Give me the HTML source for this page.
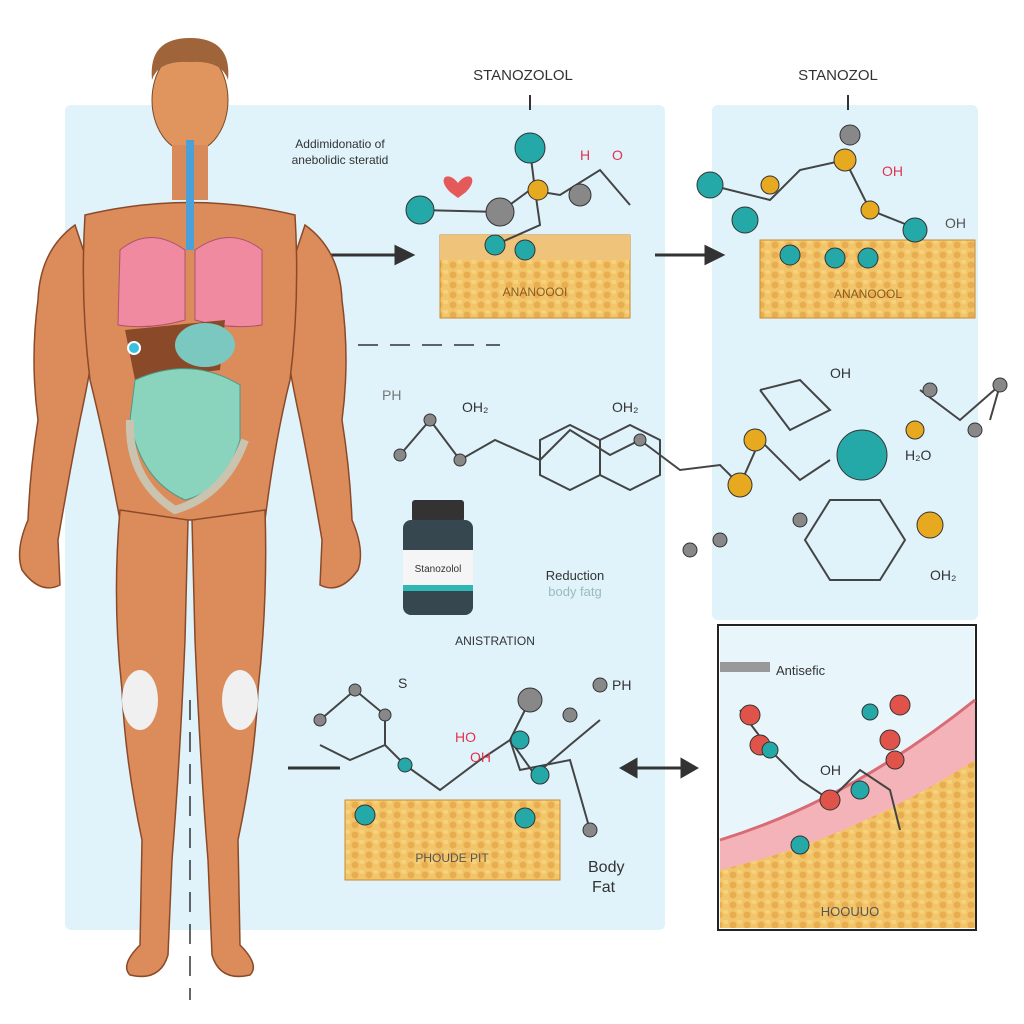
<!DOCTYPE html>
<html><head><meta charset="utf-8"><style>
html,body{margin:0;padding:0;background:#fff;width:1024px;height:1024px;overflow:hidden}
svg text{font-family:"Liberation Sans",sans-serif}
</style></head><body>
<svg width="1024" height="1024" viewBox="0 0 1024 1024" xmlns="http://www.w3.org/2000/svg">
<defs>
<pattern id="fat" width="14" height="10" patternUnits="userSpaceOnUse">
<rect width="14" height="10" fill="#f3c56a"/><circle cx="5" cy="5" r="3.5" fill="#e8ad4f"/><circle cx="12" cy="1" r="3" fill="#f6d27c"/>
</pattern>
</defs>
<rect x="65" y="105" width="600" height="825" rx="6" fill="#e0f3fb"/>
<rect x="712" y="105" width="266" height="515" rx="6" fill="#e0f3fb"/>
<rect x="718" y="625" width="258" height="305" fill="#fff" stroke="#222" stroke-width="2"/>
<rect x="720" y="627" width="254" height="301" fill="#e8f6fb"/>
<path d="M720 840 Q850 800 975 700 L975 790 Q860 880 720 905Z" fill="#f4b3b8"/>
<path d="M720 870 Q850 840 975 760 L975 928 L720 928Z" fill="url(#fat)"/>
<path d="M720 840 Q850 800 975 700" stroke="#d96b76" stroke-width="3" fill="none"/>
<text x="850" y="916" font-size="13" fill="#555" text-anchor="middle">HOOUUO</text>
<rect x="720" y="662" width="50" height="10" fill="#999"/>
<text x="776" y="675" font-size="13" fill="#333">Antisefic</text>
<rect x="440" y="235" width="190" height="83" fill="url(#fat)" stroke="#c98a33"/>
<rect x="440" y="235" width="190" height="25" fill="#f0c37a"/>
<text x="535" y="296" font-size="12" fill="#8a5a20" text-anchor="middle">ANANOOOI</text>
<rect x="760" y="240" width="215" height="78" fill="url(#fat)" stroke="#c98a33"/>
<text x="868" y="298" font-size="12" fill="#8a5a20" text-anchor="middle">ANANOOOL</text>
<rect x="345" y="800" width="215" height="80" fill="url(#fat)" stroke="#c98a33"/>
<text x="452" y="862" font-size="12" fill="#555" text-anchor="middle">PHOUDE PIT</text>
<text x="523" y="80" font-size="15" fill="#333" text-anchor="middle">STANOZOLOL</text>
<text x="838" y="80" font-size="15" fill="#333" text-anchor="middle">STANOZOL</text>
<text x="340" y="148" font-size="12" fill="#333" text-anchor="middle">Addimidonatio of</text>
<text x="340" y="164" font-size="12" fill="#333" text-anchor="middle">anebolidic steratid</text>
<text x="495" y="645" font-size="12" fill="#333" text-anchor="middle">ANISTRATION</text>
<text x="575" y="580" font-size="13" fill="#333" text-anchor="middle">Reduction</text>
<text x="575" y="596" font-size="13" fill="#9bb" text-anchor="middle">body fatg</text>
<text x="588" y="872" font-size="16" fill="#333">Body</text>
<text x="592" y="892" font-size="16" fill="#333">Fat</text>
<g stroke="#333" stroke-width="3" fill="#333">
<line x1="320" y1="255" x2="400" y2="255"/><polygon points="412,255 396,247 396,263"/>
<line x1="655" y1="255" x2="710" y2="255"/><polygon points="722,255 706,247 706,263"/>
<line x1="630" y1="768" x2="690" y2="768"/><polygon points="622,768 636,760 636,776"/><polygon points="696,768 682,760 682,776"/>
<line x1="288" y1="768" x2="340" y2="768"/>
</g>
<line x1="358" y1="345" x2="500" y2="345" stroke="#333" stroke-width="1.5" stroke-dasharray="20,12"/>
<line x1="190" y1="700" x2="190" y2="1000" stroke="#333" stroke-width="1.5" stroke-dasharray="20,12"/>
<rect x="412" y="500" width="52" height="22" rx="3" fill="#333"/>
<rect x="403" y="520" width="70" height="95" rx="8" fill="#36474f"/>
<rect x="403" y="550" width="70" height="40" fill="#f5f5f5"/>
<rect x="403" y="585" width="70" height="6" fill="#2fb7b5"/>
<text x="438" y="572" font-size="10" fill="#333" text-anchor="middle">Stanozolol</text>
<g stroke="#444" stroke-width="2" fill="none">
<polyline points="420,210 500,212 530,190 560,195 600,170 630,205"/>
<polyline points="530,150 535,190 540,225 495,245"/>
<polyline points="710,185 770,200 800,170 845,160 870,210 920,230"/>
<polyline points="400,455 430,420 460,460 495,440 540,460 570,430 610,455 640,440 680,470 720,465 740,485 760,440 800,480 830,460"/>
<polygon points="540,440 570,425 600,440 600,475 570,490 540,475"/>
<polygon points="600,440 630,425 660,440 660,475 630,490 600,475"/>
<polygon points="830,500 880,500 905,540 880,580 830,580 805,540"/>
<polyline points="760,390 800,380 830,410 790,430 760,390"/>
<polyline points="920,390 960,420 1000,385 990,420"/>
<polyline points="320,720 355,690 385,715 385,745 350,760 320,745Z"/>
<polyline points="385,745 405,765 440,790 480,760 510,740 535,775 570,745 600,720"/>
<polyline points="530,700 510,740 520,770 570,760 590,830"/>
<polyline points="740,710 770,750 800,780 830,800 860,770 890,790 900,830"/>
</g>
<g stroke="#333" stroke-width="1">
<circle cx="420" cy="210" r="14" fill="#25a9a8"/><circle cx="500" cy="212" r="14" fill="#888"/><circle cx="538" cy="190" r="10" fill="#e7a920"/>
<circle cx="530" cy="148" r="15" fill="#25a9a8"/><circle cx="580" cy="195" r="11" fill="#888"/>
<circle cx="495" cy="245" r="10" fill="#25a9a8"/><circle cx="525" cy="250" r="10" fill="#25a9a8"/>
<circle cx="710" cy="185" r="13" fill="#25a9a8"/><circle cx="745" cy="220" r="13" fill="#25a9a8"/><circle cx="770" cy="185" r="9" fill="#e7a920"/>
<circle cx="845" cy="160" r="11" fill="#e7a920"/><circle cx="850" cy="135" r="10" fill="#888"/><circle cx="870" cy="210" r="9" fill="#e7a920"/>
<circle cx="915" cy="230" r="12" fill="#25a9a8"/><circle cx="790" cy="255" r="10" fill="#25a9a8"/><circle cx="835" cy="258" r="10" fill="#25a9a8"/><circle cx="868" cy="258" r="10" fill="#25a9a8"/>
<circle cx="740" cy="485" r="12" fill="#e7a920"/><circle cx="755" cy="440" r="11" fill="#e7a920"/><circle cx="915" cy="430" r="9" fill="#e7a920"/><circle cx="930" cy="525" r="13" fill="#e7a920"/>
<circle cx="862" cy="455" r="25" fill="#25a9a8"/>
<circle cx="400" cy="455" r="6" fill="#888"/><circle cx="430" cy="420" r="6" fill="#888"/><circle cx="460" cy="460" r="6" fill="#888"/><circle cx="640" cy="440" r="6" fill="#888"/><circle cx="690" cy="550" r="7" fill="#888"/><circle cx="720" cy="540" r="7" fill="#888"/><circle cx="800" cy="520" r="7" fill="#888"/>
<circle cx="930" cy="390" r="7" fill="#888"/><circle cx="1000" cy="385" r="7" fill="#888"/><circle cx="975" cy="430" r="7" fill="#888"/>
<circle cx="355" cy="690" r="6" fill="#888"/><circle cx="320" cy="720" r="6" fill="#888"/><circle cx="385" cy="715" r="6" fill="#888"/>
<circle cx="530" cy="700" r="12" fill="#888"/><circle cx="570" cy="715" r="7" fill="#888"/><circle cx="600" cy="685" r="7" fill="#888"/><circle cx="590" cy="830" r="7" fill="#888"/>
<circle cx="405" cy="765" r="7" fill="#25a9a8"/><circle cx="520" cy="740" r="9" fill="#25a9a8"/><circle cx="540" cy="775" r="9" fill="#25a9a8"/>
<circle cx="365" cy="815" r="10" fill="#25a9a8"/><circle cx="525" cy="818" r="10" fill="#25a9a8"/>
<circle cx="750" cy="715" r="10" fill="#e0534a"/><circle cx="760" cy="745" r="10" fill="#e0534a"/><circle cx="890" cy="740" r="10" fill="#e0534a"/><circle cx="900" cy="705" r="10" fill="#e0534a"/>
<circle cx="770" cy="750" r="8" fill="#25a9a8"/><circle cx="870" cy="712" r="8" fill="#25a9a8"/><circle cx="800" cy="845" r="9" fill="#25a9a8"/><circle cx="830" cy="800" r="10" fill="#e0534a"/><circle cx="860" cy="790" r="9" fill="#25a9a8"/><circle cx="895" cy="760" r="9" fill="#e0534a"/>
</g>
<g font-size="14" fill="#333">
<text x="580" y="160" fill="#e0344f">H</text><text x="612" y="160" fill="#e0344f">O</text>
<text x="462" y="412">OH₂</text><text x="382" y="400" fill="#777">PH</text><text x="612" y="412">OH₂</text>
<text x="882" y="176" fill="#e0344f">OH</text><text x="945" y="228" fill="#555">OH</text>
<text x="830" y="378">OH</text><text x="905" y="460" >H₂O</text><text x="930" y="580">OH₂</text>
<text x="455" y="742" fill="#e0344f">HO</text><text x="470" y="762" fill="#e0344f">OH</text><text x="612" y="690">PH</text><text x="398" y="688">S</text>
<text x="820" y="775">OH</text>
</g>
<path d="M458 183 C448 170 436 178 450 192 L458 198 L466 192 C480 178 468 170 458 183Z" fill="#e45a5a"/>
<!-- human figure -->
<g fill="#dc8b5a" stroke="#8a4a2a" stroke-width="1.5">
<!-- arms -->
<path d="M75 225 Q40 250 38 300 Q30 360 38 420 Q30 470 28 520 Q15 550 22 570 Q40 595 60 585 L58 540 Q70 470 80 420 Q95 350 100 300Z"/>
<path d="M305 225 Q340 250 342 300 Q350 360 342 420 Q350 470 352 520 Q365 550 358 570 Q340 595 320 585 L322 540 Q310 470 300 420 Q285 350 280 300Z"/>
<!-- torso -->
<path d="M85 215 Q190 190 295 215 Q300 300 290 380 Q275 440 265 520 L120 520 Q105 440 90 380 Q80 300 85 215Z"/>
<!-- legs -->
<path d="M120 510 L188 520 L185 640 Q180 760 172 860 L168 955 Q160 982 130 975 Q120 965 140 945 L142 840 Q125 760 122 690 Q112 600 120 510Z"/>
<path d="M265 510 L192 520 L195 640 Q200 760 208 860 L212 955 Q220 982 250 975 Q260 965 240 945 L238 840 Q255 760 258 690 Q268 600 265 510Z"/>
</g>
<ellipse cx="190" cy="100" rx="38" ry="52" fill="#e0955e" stroke="#7a4a2a"/>
<path d="M152 80 Q148 38 190 38 Q232 38 228 80 Q222 60 190 62 Q158 60 152 80Z" fill="#a0643a"/>
<rect x="172" y="145" width="36" height="55" fill="#d98a5a"/>
<rect x="186" y="140" width="8" height="110" fill="#4aa0d8"/>
<path d="M120 250 Q150 225 185 250 L185 320 Q150 330 118 325Z" fill="#f08aa0" stroke="#b05070"/>
<path d="M195 250 Q230 225 262 250 L262 325 Q230 330 195 320Z" fill="#f08aa0" stroke="#b05070"/>
<path d="M125 330 L225 320 L220 370 L135 380Z" fill="#8a4a2a"/>
<ellipse cx="205" cy="345" rx="30" ry="22" fill="#7ac8c0"/>
<path d="M135 380 Q190 355 240 385 L240 440 Q225 490 185 500 Q140 480 130 420Z" fill="#8ad4be" stroke="#4a9a8a"/>
<path d="M130 420 Q128 480 175 510 Q225 495 245 440" fill="none" stroke="#c9c3b0" stroke-width="8"/>
<circle cx="134" cy="348" r="6" fill="#3ac0e0" stroke="#fff" stroke-width="2"/>
<g fill="#f0f0f0"><ellipse cx="140" cy="700" rx="18" ry="30"/><ellipse cx="240" cy="700" rx="18" ry="30"/></g>
<line x1="530" y1="95" x2="530" y2="110" stroke="#333" stroke-width="2"/>
<line x1="848" y1="95" x2="848" y2="110" stroke="#333" stroke-width="2"/>
</svg>
</body></html>
